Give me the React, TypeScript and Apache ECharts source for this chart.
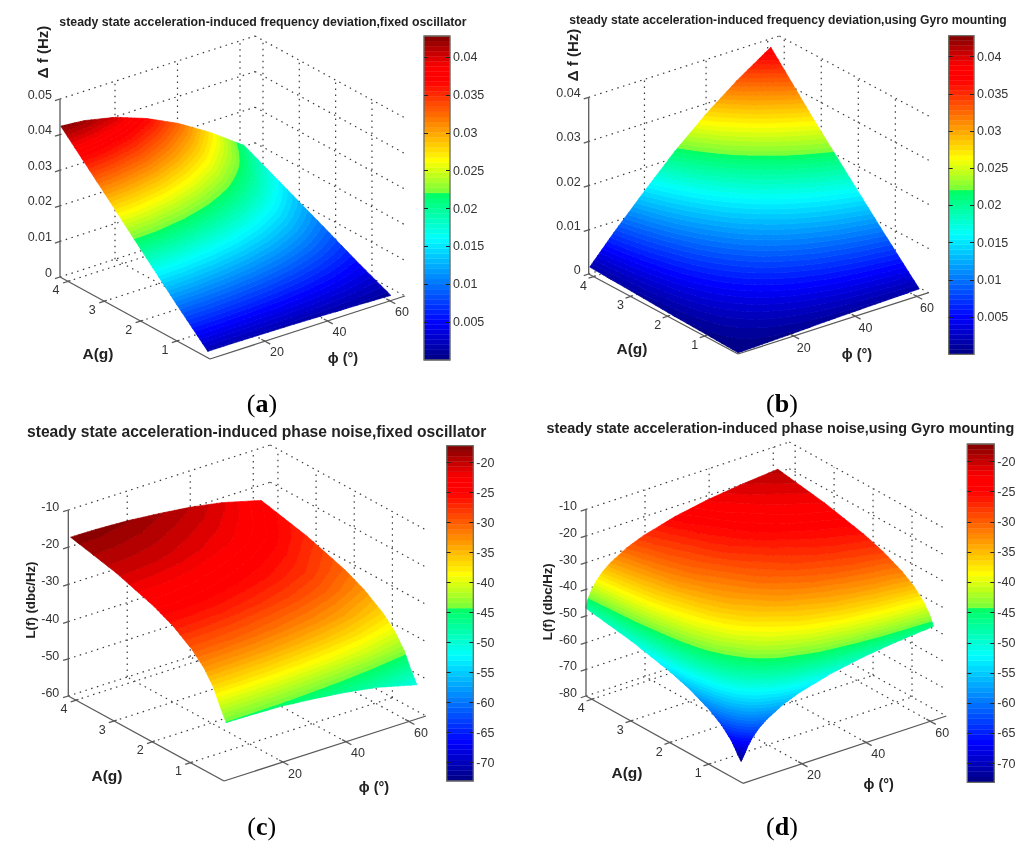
import React, { useEffect, useRef } from "react";
import * as echarts from "echarts";

// ---- data -----------------------------------------------------------------
const phiTicks = [20, 40, 60];
const ampTicks = [1, 2, 3, 4];
const zTicksA = [0, 0.01, 0.02, 0.03, 0.04, 0.05];
const zTicksB = [0, 0.01, 0.02, 0.03, 0.04];
const zTicksC = [-60, -50, -40, -30, -20, -10];
const zTicksD = [-80, -70, -60, -50, -40, -30, -20, -10];
const barTicksHz = [0.005, 0.01, 0.015, 0.02, 0.025, 0.03, 0.035, 0.04];
const barTicksDb = [-70, -65, -60, -55, -50, -45, -40, -35, -30, -25, -20];

const phiGridA = [2.4, 10, 20, 30, 40, 50, 61];
const ampGridA = [0.15, 1, 2, 3, 4.2];
const surfaceA = [
  [0.0018, 0.0018, 0.0017, 0.0016, 0.0014, 0.0012, 0.0009],
  [0.0101, 0.01, 0.0095, 0.0088, 0.0078, 0.0065, 0.0048],
  [0.0202, 0.02, 0.019, 0.0175, 0.0155, 0.013, 0.0098],
  [0.0304, 0.0299, 0.0286, 0.0263, 0.0233, 0.0195, 0.0147],
  [0.0425, 0.0419, 0.04, 0.0368, 0.0326, 0.0273, 0.0205],
];

const phiGridB = [2.2, 10, 20, 30, 40, 50, 61];
const ampGridB = [0.12, 1, 2, 3, 4.13];
const surfaceB = [
  [0.0001, 0.0003, 0.0005, 0.0008, 0.001, 0.0012, 0.0014],
  [0.0004, 0.0018, 0.0035, 0.0051, 0.0066, 0.0079, 0.0091],
  [0.0007, 0.0036, 0.007, 0.0103, 0.0132, 0.0157, 0.0181],
  [0.0011, 0.0053, 0.0105, 0.0154, 0.0198, 0.0236, 0.0272],
  [0.0015, 0.0075, 0.0147, 0.0216, 0.0277, 0.033, 0.0381],
];

const phiGridC = [2, 10, 20, 30, 40, 50, 62.5];
const ampGridC = [0.12, 0.3, 0.45, 0.7, 1, 1.5, 2, 3, 4.2];
const surfaceC = [
  [-44.5, -44.6, -44.9, -45.7, -46.7, -48.1, -50.8],
  [-40.6, -40.7, -41.0, -41.8, -42.8, -44.3, -47.1],
  [-36.9, -37.0, -37.4, -38.2, -39.2, -40.7, -43.5],
  [-33.1, -33.2, -33.6, -34.4, -35.4, -36.9, -39.7],
  [-30.0, -30.1, -30.5, -31.3, -32.3, -33.8, -36.6],
  [-26.4, -26.5, -26.9, -27.7, -28.7, -30.2, -33.0],
  [-23.9, -24.0, -24.4, -25.2, -26.2, -27.7, -30.5],
  [-20.4, -20.5, -20.9, -21.7, -22.7, -24.2, -27.0],
  [-17.5, -17.6, -18.0, -18.8, -19.8, -21.3, -24.1],
];

const phiGridD = [2, 3, 4, 5.5, 7.5, 10, 15, 20, 30, 40, 50, 62];
const ampGridD = [0.2, 0.3, 0.45, 0.7, 1, 1.5, 2, 3, 4.2];
const surfaceD = [
  [-72.6, -70.4, -67.9, -65.1, -62.4, -60.0, -56.5, -54.1, -50.8, -48.6, -47.1, -45.8],
  [-70.4, -66.9, -64.4, -61.6, -58.9, -56.5, -53.0, -50.6, -47.3, -45.1, -43.6, -42.3],
  [-66.9, -63.4, -60.9, -58.1, -55.4, -53.0, -49.5, -47.1, -43.8, -41.6, -40.1, -38.8],
  [-63.1, -59.6, -57.1, -54.3, -51.6, -49.2, -45.7, -43.3, -40.0, -37.8, -36.3, -35.0],
  [-60.0, -56.5, -54.0, -51.2, -48.5, -46.1, -42.6, -40.2, -36.9, -34.7, -33.2, -31.9],
  [-56.4, -52.9, -50.4, -47.6, -44.9, -42.5, -39.0, -36.6, -33.3, -31.1, -29.6, -28.3],
  [-53.9, -50.4, -47.9, -45.1, -42.4, -40.0, -36.5, -34.1, -30.8, -28.6, -27.1, -25.8],
  [-50.4, -46.9, -44.4, -41.6, -38.9, -36.5, -33.0, -30.6, -27.3, -25.1, -23.6, -22.3],
  [-47.5, -44.0, -41.5, -38.7, -36.0, -33.6, -30.1, -27.7, -24.4, -22.2, -20.7, -19.4],
];

// ---- layout of each panel (not data) ---------------------------------------
const SANS = '"Liberation Sans", Arial, sans-serif';
const SERIF = '"Liberation Serif", "Times New Roman", serif';
const TEXT = "#333333";
const AXIS = "#5a5a5a";

type Panel = any;
const panels: Panel[] = [
  {
    letter: "a", title: "steady state acceleration-induced frequency deviation,fixed oscillator",
    titleAt: [263, 22], titleFont: 12.3, zName: "Δ f (Hz)", zNameAt: [42, 52], zNameFont: 15,
    aAt: [98, 353], pAt: [343, 358], capAt: [262, 403],
    C: [210, 359], P: [405, 296], A: [60, 277], Z: [60, 99],
    phi: [2.4, 64.8], amp: [0.09, 4.22], z: [0, 0.05], zTicks: zTicksA,
    zOff: [-8, -4.5], aOff: [-12, 9], pOff: [12, 11],
    phis: phiGridA, amps: ampGridA, vals: surfaceA, sub: 6,
    bar: { left: 424, top: 36, width: 26, height: 324, min: 0, max: 0.0428, ticks: barTicksHz },
  },
  {
    letter: "b", title: "steady state acceleration-induced frequency deviation,using Gyro mounting",
    titleAt: [788, 20], titleFont: 12.1, zName: "Δ f (Hz)", zNameAt: [572, 55], zNameFont: 15,
    aAt: [632, 348], pAt: [857, 354], capAt: [782, 403],
    C: [738, 354], P: [928.7, 292.7], A: [588.7, 274], Z: [588.7, 97.3],
    phi: [1.9, 63.8], amp: [0.1, 4.13], z: [0, 0.04], zTicks: zTicksB,
    zOff: [-8, -4], aOff: [-10, 9], pOff: [10, 11.5],
    phis: phiGridB, amps: ampGridB, vals: surfaceB, sub: 6,
    bar: { left: 948.7, top: 35.7, width: 25.3, height: 318.6, min: 0, max: 0.0428, ticks: barTicksHz },
  },
  {
    letter: "c", title: "steady state acceleration-induced phase noise,fixed oscillator",
    titleAt: [256.7, 431.7], titleFont: 15.6, zName: "L(f) (dbc/Hz)", zNameAt: [30, 600], zNameFont: 13.2,
    aAt: [107, 775.7], pAt: [374, 786.7], capAt: [261.7, 826.7],
    C: [224, 781], P: [426, 716], A: [68.3, 696], Z: [68.3, 510],
    phi: [1.3, 65.4], amp: [0.12, 4.2], z: [-60, -10], zTicks: zTicksC,
    zOff: [-9, -3], aOff: [-12, 8.5], pOff: [12, 11.5],
    phis: phiGridC, amps: ampGridC, vals: surfaceC, sub: 6,
    bar: { left: 446.7, top: 445.7, width: 26.6, height: 335.3, min: -73.05, max: -17.2, ticks: barTicksDb },
  },
  {
    letter: "d", title: "steady state acceleration-induced phase noise,using Gyro mounting",
    titleAt: [780.3, 428.3], titleFont: 14.4, zName: "L(f) (dbc/Hz)", zNameAt: [547, 601.7], zNameFont: 13.2,
    aAt: [627, 772.3], pAt: [878.7, 784.3], capAt: [782, 826.7],
    C: [743, 783.3], P: [946.3, 716], A: [586, 696], Z: [586, 509.3],
    phi: [1.6, 65], amp: [0.12, 4.15], z: [-80, -10], zTicks: zTicksD,
    zOff: [-9, -3], aOff: [-10.5, 9], pOff: [12, 11.5],
    phis: phiGridD, amps: ampGridD, vals: surfaceD, sub: 4,
    bar: { left: 967.3, top: 444, width: 27, height: 338.3, min: -73.1, max: -17.1, ticks: barTicksDb },
  },
];

// ---- colours: the 64-step jet-like map of the colour bars -------------------
const LEVELS = 64;
const stops: [number, number[]][] = [
  [0, [0, 0, 130]], [0.115, [0, 0, 255]], [0.375, [0, 255, 255]], [0.512, [0, 255, 100]],
  [0.522, [125, 255, 55]], [0.615, [255, 255, 0]], [0.86, [255, 0, 0]], [0.905, [255, 0, 0]], [1, [128, 0, 0]],
];
function levelColor(k: number) {
  const t = (k + 0.5) / LEVELS;
  for (let i = 1; i < stops.length; i++) {
    if (t <= stops[i][0]) {
      const [t0, c0] = stops[i - 1];
      const [t1, c1] = stops[i];
      const f = (t - t0) / (t1 - t0);
      return `rgb(${c0.map((c, j) => Math.round(c + (c1[j] - c) * f)).join(",")})`;
    }
  }
  return "rgb(128,0,0)";
}

// ---- 3-D box to drawing plane ------------------------------------------------
function project(p: Panel, phi: number, amp: number, z: number) {
  const u = (phi - p.phi[0]) / (p.phi[1] - p.phi[0]);
  const v = (amp - p.amp[0]) / (p.amp[1] - p.amp[0]);
  const w = (z - p.z[0]) / (p.z[1] - p.z[0]);
  return [
    p.C[0] + u * (p.P[0] - p.C[0]) + v * (p.A[0] - p.C[0]) + w * (p.Z[0] - p.A[0]),
    p.C[1] + u * (p.P[1] - p.C[1]) + v * (p.A[1] - p.C[1]) + w * (p.Z[1] - p.A[1]),
  ];
}

// ---- flat colour bands of a surface, found by clipping its facets ---------
function clipZ(poly: number[][], limit: number, keepAbove: boolean) {
  const out: number[][] = [];
  for (let i = 0; i < poly.length; i++) {
    const a = poly[i];
    const b = poly[(i + 1) % poly.length];
    const ina = keepAbove ? a[2] >= limit : a[2] <= limit;
    const inb = keepAbove ? b[2] >= limit : b[2] <= limit;
    if (ina) out.push(a);
    if (ina !== inb) {
      const f = (limit - a[2]) / (b[2] - a[2]);
      out.push([a[0] + (b[0] - a[0]) * f, a[1] + (b[1] - a[1]) * f, limit]);
    }
  }
  return out;
}
function buildBands(p: Panel) {
  const bands: number[][][][] = Array.from({ length: LEVELS }, () => []);
  const { phis, amps, vals, sub, bar } = p;
  const dz = (bar.max - bar.min) / LEVELS;
  const vertex = (i: number, j: number, s: number, t: number) => {
    const fs = s / sub;
    const ft = t / sub;
    const z =
      vals[i][j] * (1 - fs) * (1 - ft) + vals[i][j + 1] * (1 - fs) * ft +
      vals[i + 1][j] * fs * (1 - ft) + vals[i + 1][j + 1] * fs * ft;
    return [phis[j] + (phis[j + 1] - phis[j]) * ft, amps[i] + (amps[i + 1] - amps[i]) * fs, z];
  };
  for (let i = 0; i < amps.length - 1; i++) {
    for (let j = 0; j < phis.length - 1; j++) {
      for (let s = 0; s < sub; s++) {
        for (let t = 0; t < sub; t++) {
          const a = vertex(i, j, s, t);
          const b = vertex(i, j, s, t + 1);
          const c = vertex(i, j, s + 1, t + 1);
          const d = vertex(i, j, s + 1, t);
          for (const tri of [[a, b, c], [a, c, d]]) {
            const zs = tri.map((q) => q[2]);
            const k0 = Math.max(0, Math.floor((Math.min(...zs) - bar.min) / dz));
            const k1 = Math.min(LEVELS - 1, Math.floor((Math.max(...zs) - bar.min) / dz));
            for (let k = k0; k <= k1; k++) {
              let poly = clipZ(tri, bar.min + k * dz, true);
              if (poly.length) poly = clipZ(poly, bar.min + (k + 1) * dz, false);
              if (poly.length >= 3) bands[k].push(poly);
            }
          }
        }
      }
    }
  }
  return bands;
}

echarts.graphic.registerShape(
  "bandPaths",
  (echarts.graphic as any).extendShape({
    type: "bandPaths",
    shape: { polys: [] },
    buildPath(ctx: any, shape: any) {
      for (const poly of shape.polys) {
        poly.forEach((pt: number[], i: number) => (i ? ctx.lineTo(pt[0], pt[1]) : ctx.moveTo(pt[0], pt[1])));
        ctx.closePath();
      }
    },
  })
);

function boxSegments(p: Panel) {
  const [p0, p1] = p.phi;
  const [a0, a1] = p.amp;
  const [z0, z1] = p.z;
  const dotted: number[][] = [];
  for (const f of phiTicks) {
    dotted.push([f, a0, z0, f, a1, z0], [f, a1, z0, f, a1, z1]);
  }
  for (const a of ampTicks) {
    dotted.push([p0, a, z0, p1, a, z0], [p1, a, z0, p1, a, z1]);
  }
  for (const z of p.zTicks) {
    dotted.push([p0, a1, z, p1, a1, z], [p1, a1, z, p1, a0, z]);
  }
  const dp = (p1 - p0) * 0.026;
  const da = (a1 - a0) * 0.035;
  const solid: number[][] = [
    [p0, a0, z0, p1, a0, z0],
    [p0, a0, z0, p0, a1, z0],
    [p0, a1, z0, p0, a1, z1],
  ];
  for (const f of phiTicks) solid.push([f, a0 - da, z0, f, a0 + da * 0.7, z0]);
  for (const a of ampTicks) solid.push([p0 - dp, a, z0, p0 + dp * 0.5, a, z0]);
  for (const z of p.zTicks) solid.push([p0 - dp, a1, z, p0, a1, z]);
  return { dotted, solid };
}

function segmentRender(p: Panel, style: any) {
  return (_: any, api: any) => {
    const a = api.coord(project(p, api.value(0), api.value(1), api.value(2)));
    const b = api.coord(project(p, api.value(3), api.value(4), api.value(5)));
    return { type: "line", shape: { x1: a[0], y1: a[1], x2: b[0], y2: b[1] }, style };
  };
}

function buildOption() {
  const series: any[] = [];
  const grid: any[] = [{ left: 0, top: 0, width: 1024, height: 844, show: false }];
  const xAxis: any[] = [{ type: "value", min: 0, max: 1024, show: false, gridIndex: 0 }];
  const yAxis: any[] = [{ type: "value", min: 0, max: 844, inverse: true, show: false, gridIndex: 0 }];
  const graphic: any[] = [];

  panels.forEach((p, idx) => {
    const seg = boxSegments(p);
    const bands = buildBands(p);
    const onPlane = { type: "custom", coordinateSystem: "cartesian2d", xAxisIndex: 0, yAxisIndex: 0, silent: true, clip: false, animation: false };

    series.push({
      ...onPlane, name: `grid ${p.letter}`, z: 1, data: seg.dotted,
      renderItem: segmentRender(p, { stroke: "#3c3c3c", lineWidth: 1.2, lineDash: [1.5, 4.5], fill: null }),
    });
    series.push({
      ...onPlane, name: `surface ${p.letter}`, z: 2,
      data: bands.map((_, k) => [k, k]),
      renderItem: (_: any, api: any) => {
        const k = api.value(0);
        const polys = bands[k].map((poly) => poly.map((q) => api.coord(project(p, q[0], q[1], q[2]))));
        const c = levelColor(k);
        return { type: "bandPaths", shape: { polys }, style: { fill: c, stroke: c, lineWidth: 0.6, lineJoin: "round" } };
      },
    });
    series.push({
      ...onPlane, name: `axes ${p.letter}`, z: 3, data: seg.solid,
      renderItem: segmentRender(p, { stroke: AXIS, lineWidth: 1.3, fill: null }),
    });

    const labelData = [
      ...p.zTicks.map((v: number) => [v, 0]),
      ...ampTicks.map((v) => [v, 1]),
      ...phiTicks.map((v) => [v, 2]),
    ];
    series.push({
      ...onPlane, name: `tick labels ${p.letter}`, z: 4, data: labelData,
      renderItem: (_: any, api: any) => {
        const v = api.value(0);
        const kind = api.value(1);
        const at =
          kind === 0 ? project(p, p.phi[0], p.amp[1], v)
          : kind === 1 ? project(p, p.phi[0], v, p.z[0])
          : project(p, v, p.amp[0], p.z[0]);
        const off = kind === 0 ? p.zOff : kind === 1 ? p.aOff : p.pOff;
        const c = api.coord(at);
        return {
          type: "text", x: c[0] + off[0], y: c[1] + off[1],
          style: { text: String(v), fill: TEXT, font: `12.5px ${SANS}`, textAlign: kind === 0 ? "right" : "center", textVerticalAlign: "middle" },
        };
      },
    });

    // colour bar
    const b = p.bar;
    const gi = idx + 1;
    grid.push({ left: b.left, top: b.top, width: b.width, height: b.height, show: false });
    xAxis.push({ type: "value", min: 0, max: 1, show: false, gridIndex: gi });
    const tickStyle = { show: true, inside: true, length: 4, lineStyle: { color: "#222", width: 1 }, customValues: b.ticks };
    yAxis.push({
      type: "value", gridIndex: gi, position: "right", min: b.min, max: b.max, z: 5,
      axisLine: { show: false, onZero: false }, splitLine: { show: false }, axisTick: tickStyle,
      axisLabel: { show: true, customValues: b.ticks, margin: 3, color: TEXT, fontFamily: "Liberation Sans", fontSize: 12.5, formatter: (v: number) => String(v) },
    });
    const rightIndex = yAxis.length - 1;
    yAxis.push({
      type: "value", gridIndex: gi, position: "left", min: b.min, max: b.max, z: 5,
      axisLine: { show: false, onZero: false }, splitLine: { show: false }, axisTick: tickStyle, axisLabel: { show: false },
    });
    const dz = (b.max - b.min) / LEVELS;
    series.push({
      type: "custom", coordinateSystem: "cartesian2d", xAxisIndex: gi, yAxisIndex: rightIndex, silent: true, z: 2,
      name: `colour bar ${p.letter}`,
      data: Array.from({ length: LEVELS }, (_, k) => [0.5, b.min + k * dz, k]),
      renderItem: (_: any, api: any) => {
        const k = api.value(2);
        const lo = api.coord([0, b.min + k * dz]);
        const hi = api.coord([1, b.min + (k + 1) * dz]);
        const c = levelColor(k);
        return { type: "rect", shape: { x: lo[0], y: hi[1], width: hi[0] - lo[0], height: lo[1] - hi[1] }, style: { fill: c, stroke: c, lineWidth: 0.4 } };
      },
    });
    graphic.push({
      type: "rect", z: 4, silent: true,
      shape: { x: b.left, y: b.top, width: b.width, height: b.height },
      style: { fill: "none", stroke: "#6e6e66", lineWidth: 1.3 },
    });

    // texts
    graphic.push({
      type: "text", x: p.titleAt[0], y: p.titleAt[1], silent: true,
      style: { text: p.title, fill: "#222", font: `bold ${p.titleFont}px ${SANS}`, textAlign: "center", textVerticalAlign: "middle" },
    });
    graphic.push({
      type: "text", x: p.zNameAt[0], y: p.zNameAt[1], rotation: Math.PI / 2, silent: true,
      style: { text: p.zName, fill: "#222", font: `bold ${p.zNameFont}px ${SANS}`, textAlign: "center", textVerticalAlign: "middle" },
    });
    graphic.push({
      type: "text", x: p.aAt[0], y: p.aAt[1], silent: true,
      style: { text: "A(g)", fill: "#222", font: `bold 15.5px ${SANS}`, textAlign: "center", textVerticalAlign: "middle" },
    });
    graphic.push({
      type: "text", x: p.pAt[0], y: p.pAt[1], silent: true,
      style: { text: "ϕ (°)", fill: "#222", font: `bold 14.5px ${SANS}`, textAlign: "center", textVerticalAlign: "middle" },
    });
    graphic.push({
      type: "text", x: p.capAt[0], y: p.capAt[1], silent: true,
      style: {
        text: `{r|(}{b|${p.letter}}{r|)}`, textAlign: "center", textVerticalAlign: "middle",
        rich: {
          r: { font: `26px ${SERIF}`, fill: "#000" },
          b: { font: `bold 26px ${SERIF}`, fill: "#000" },
        },
      },
    });
  });

  return { animation: false, backgroundColor: "#ffffff", grid, xAxis, yAxis, series, graphic: { elements: graphic } };
}

export default function App() {
  const ref = useRef<HTMLDivElement>(null);
  useEffect(() => {
    const chart = echarts.init(ref.current!, undefined, { renderer: "svg" });
    chart.setOption(buildOption() as any);
    return () => chart.dispose();
  }, []);
  return <div ref={ref} style={{ position: "absolute", left: 0, top: 0, width: 1024, height: 844, filter: "blur(0.45px)" }} />;
}
